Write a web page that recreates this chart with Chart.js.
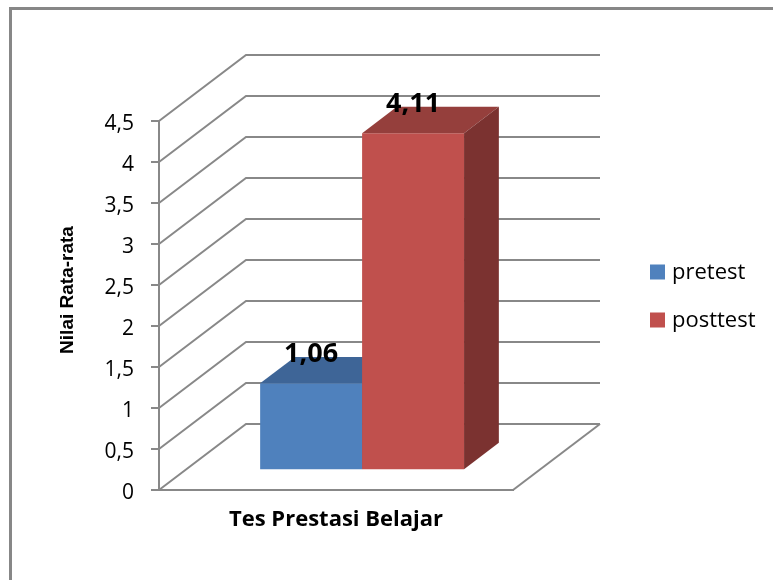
<!DOCTYPE html>
<html>
<head>
<meta charset="utf-8">
<title>Nilai Rata-rata Tes Prestasi Belajar</title>
<script src="https://cdn.jsdelivr.net/npm/chart.js@4/dist/chart.umd.min.js"></script>
<style>
  html, body { margin: 0; padding: 0; background: #fff; }
  canvas { display: block; }
</style>
</head>
<body>
<canvas id="chart" width="773" height="580"></canvas>
<script>
// ---- data ----
const categories = ['Tes Prestasi Belajar'];
const seriesNames = ['pretest', 'posttest'];
const pretestValues = [1.06];
const posttestValues = [4.11];
const yTickValues = [0, 0.5, 1, 1.5, 2, 2.5, 3, 3.5, 4, 4.5];
const yAxisTitle = 'Nilai Rata-rata';

// ---- colours ----
const faceColors = ['#4F81BD', '#C0504D'];
const topColors  = ['#3E6597', '#953F3C'];
const sideColors = ['#345580', '#7B3230'];
const GRID = '#888888';

// ---- 3D geometry (oblique projection of the plot box) ----
const DEPTH_X = 87, DEPTH_Y = -66;   // offset from front plane to back wall
const BAR_FRONT = 0.3;               // bar front face, as a fraction of depth
const BAR_DEPTH = 0.4;               // bar thickness, as a fraction of depth

const fmt = v => String(v).replace('.', ',');
const fmt2 = v => v.toFixed(2).replace('.', ',');

function poly(ctx, pts, color) {
  ctx.beginPath();
  ctx.moveTo(pts[0][0], pts[0][1]);
  for (let k = 1; k < pts.length; k++) ctx.lineTo(pts[k][0], pts[k][1]);
  ctx.closePath();
  ctx.fillStyle = color;
  ctx.fill();
}

const plot3d = {
  id: 'plot3d',
  beforeDraw(chart) {
    const ctx = chart.ctx;
    ctx.save();
    ctx.fillStyle = '#ffffff';
    ctx.fillRect(0, 0, chart.width, chart.height);
    ctx.strokeStyle = '#878787';
    ctx.lineWidth = 3;
    ctx.strokeRect(10.5, 8.5, chart.width + 40, chart.height + 40);
    ctx.restore();
  },
  beforeDatasetsDraw(chart) {
    const { ctx, chartArea: a, scales: { y } } = chart;
    ctx.save();

    // side wall + back wall gridlines
    ctx.strokeStyle = GRID;
    ctx.lineWidth = 2;
    y.ticks.forEach(t => {
      const py = y.getPixelForValue(t.value);
      ctx.beginPath();
      ctx.moveTo(a.left, py);
      ctx.lineTo(a.left + DEPTH_X, py + DEPTH_Y);
      ctx.lineTo(a.right + DEPTH_X, py + DEPTH_Y);
      ctx.stroke();
    });
    // right edge of the floor
    const y0 = y.getPixelForValue(0);
    ctx.beginPath();
    ctx.moveTo(a.right, y0);
    ctx.lineTo(a.right + DEPTH_X, y0 + DEPTH_Y);
    ctx.stroke();

    // bars as boxes
    const sx = BAR_FRONT * DEPTH_X, sy = BAR_FRONT * DEPTH_Y;
    const dx = BAR_DEPTH * DEPTH_X, dy = BAR_DEPTH * DEPTH_Y;
    const labels = [];
    chart.data.datasets.forEach((ds, i) => {
      const meta = chart.getDatasetMeta(i);
      meta.data.forEach((bar, j) => {
        const p = bar.getProps(['x', 'y', 'base', 'width'], true);
        const l = p.x - p.width / 2 + sx, r = p.x + p.width / 2 + sx;
        const t = p.y + sy, b = p.base + sy;
        poly(ctx, [[l, t], [r, t], [r, b], [l, b]], faceColors[i]);
        poly(ctx, [[l, t], [r, t], [r + dx, t + dy], [l + dx, t + dy]], topColors[i]);
        poly(ctx, [[r, t], [r + dx, t + dy], [r + dx, b + dy], [r, b]], sideColors[i]);
        labels.push({ x: p.x + sx, y: t - 21, text: fmt2(ds.data[j]) });
      });
    });

    // value labels
    ctx.fillStyle = '#000';
    ctx.font = 'bold 27px "Open Sans"';
    ctx.textAlign = 'center';
    ctx.textBaseline = 'alphabetic';
    labels.forEach(lb => ctx.fillText(lb.text, lb.x, lb.y));

    ctx.restore();
    return false;
  },
  afterDraw(chart) {
    const ctx = chart.ctx;
    ctx.save();
    // legend
    ctx.font = '22px "Open Sans"';
    ctx.textAlign = 'left';
    ctx.textBaseline = 'middle';
    chart.data.datasets.forEach((ds, i) => {
      const cy = 272 + i * 48;
      ctx.fillStyle = faceColors[i];
      ctx.fillRect(650, cy - 7.5, 15, 15);
      ctx.fillStyle = '#000';
      ctx.fillText(ds.label, 672, cy + 1);
    });
    // value axis title
    ctx.translate(73, 290);
    ctx.rotate(-Math.PI / 2);
    ctx.font = 'bold 19px "Liberation Sans"';
    ctx.textAlign = 'center';
    ctx.textBaseline = 'alphabetic';
    ctx.fillStyle = '#000';
    ctx.fillText(yAxisTitle, 0, 0);
    ctx.restore();
  }
};

function draw() {
  new Chart(document.getElementById('chart'), {
    type: 'bar',
    data: {
      labels: categories,
      datasets: [
        { label: seriesNames[0], data: pretestValues, backgroundColor: faceColors[0] },
        { label: seriesNames[1], data: posttestValues, backgroundColor: faceColors[1] }
      ]
    },
    options: {
      responsive: false,
      animation: false,
      devicePixelRatio: 1,
      layout: { padding: { left: 0, top: 121, right: 260, bottom: 0 } },
      categoryPercentage: 0.576,
      barPercentage: 1,
      plugins: { legend: { display: false }, tooltip: { enabled: false } },
      scales: {
        x: {
          grid: { display: false },
          border: { display: true, color: GRID, width: 2 },
          ticks: { display: false },
          title: {
            display: true,
            text: categories[0],
            color: '#000',
            font: { family: 'Open Sans', size: 22, weight: 'bold' },
            padding: { top: 0, bottom: 47 }
          },
          afterFit(scale) { scale.height = 90; }
        },
        y: {
          min: 0,
          max: 4.5,
          afterBuildTicks(scale) { scale.ticks = yTickValues.map(v => ({ value: v })); },
          grid: { drawOnChartArea: false, drawTicks: true, tickLength: 8, color: GRID, lineWidth: 2 },
          border: { display: true, color: GRID, width: 2 },
          ticks: {
            color: '#000',
            font: { family: 'Open Sans', size: 21 },
            padding: 17,
            labelOffset: 3,
            callback: v => fmt(v)
          },
          afterFit(scale) { scale.width = 159; }
        }
      }
    },
    plugins: [plot3d]
  });
}

Promise.all([
  document.fonts.load('21px "Open Sans"'),
  document.fonts.load('bold 22px "Open Sans"'),
  document.fonts.load('bold 19px "Liberation Sans"')
]).then(draw, draw);
</script>
</body>
</html>
